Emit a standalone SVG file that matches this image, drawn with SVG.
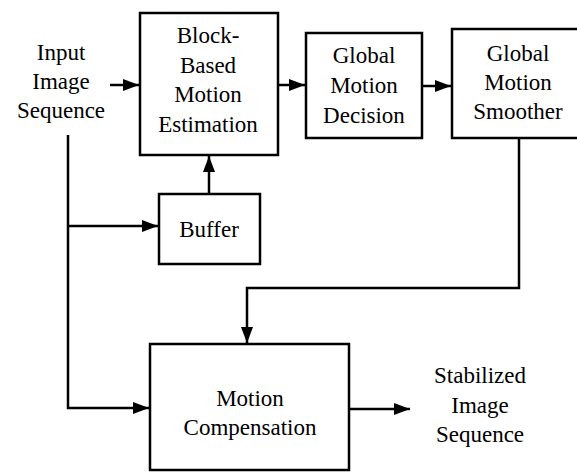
<svg xmlns="http://www.w3.org/2000/svg" width="577" height="472" viewBox="0 0 577 472">
<defs>
<marker id="ah" viewBox="0 0 16 12" refX="16" refY="6" markerWidth="16" markerHeight="12" markerUnits="userSpaceOnUse" orient="auto">
<path d="M0,0 L16,6 L0,12 Z" fill="#000"/>
</marker>
</defs>
<style>
.box{fill:#fff;stroke:#000;stroke-width:2.5}
.ln{fill:none;stroke:#000;stroke-width:2.5}
</style>
<rect width="577" height="472" fill="#fff"/>
<g id="connectors">
<path class="ln" d="M110,85 H139" marker-end="url(#ah)"/>
<path class="ln" d="M278,85 H305" marker-end="url(#ah)"/>
<path class="ln" d="M422,86 H451" marker-end="url(#ah)"/>
<path class="ln" d="M209,194 V156" marker-end="url(#ah)"/>
<path class="ln" d="M68,135 V408 H149" marker-end="url(#ah)"/>
<path class="ln" d="M68,226 H158" marker-end="url(#ah)"/>
<path class="ln" d="M519,138 V288 H247 V343" marker-end="url(#ah)"/>
<path class="ln" d="M350,409 H410" marker-end="url(#ah)"/>
</g>
<g font-family="Liberation Serif, Times New Roman, serif" font-size="23" text-anchor="middle" fill="#000">
<g id="input">
<text x="61" y="60">Input</text>
<text x="61" y="89">Image</text>
<text x="61" y="118">Sequence</text>
</g>
<g id="bbme">
<rect class="box" x="140" y="13" width="138" height="142"/>
<text x="208" y="43">Block-</text>
<text x="208" y="73">Based</text>
<text x="208" y="102">Motion</text>
<text x="208" y="132">Estimation</text>
</g>
<g id="gmd">
<rect class="box" x="306" y="33" width="116" height="105"/>
<text x="364" y="63">Global</text>
<text x="364" y="93">Motion</text>
<text x="364" y="123">Decision</text>
</g>
<g id="gms">
<rect class="box" x="452" y="29" width="140" height="109"/>
<text x="518" y="61">Global</text>
<text x="518" y="90">Motion</text>
<text x="518" y="119">Smoother</text>
</g>
<g id="buffer">
<rect class="box" x="159" y="194" width="101" height="70"/>
<text x="209" y="237">Buffer</text>
</g>
<g id="mc">
<rect class="box" x="150" y="344" width="199" height="126"/>
<text x="250" y="406">Motion</text>
<text x="250" y="435">Compensation</text>
</g>
<g id="output">
<text x="480" y="383">Stabilized</text>
<text x="480" y="413">Image</text>
<text x="480" y="442">Sequence</text>
</g>
</g>
</svg>
